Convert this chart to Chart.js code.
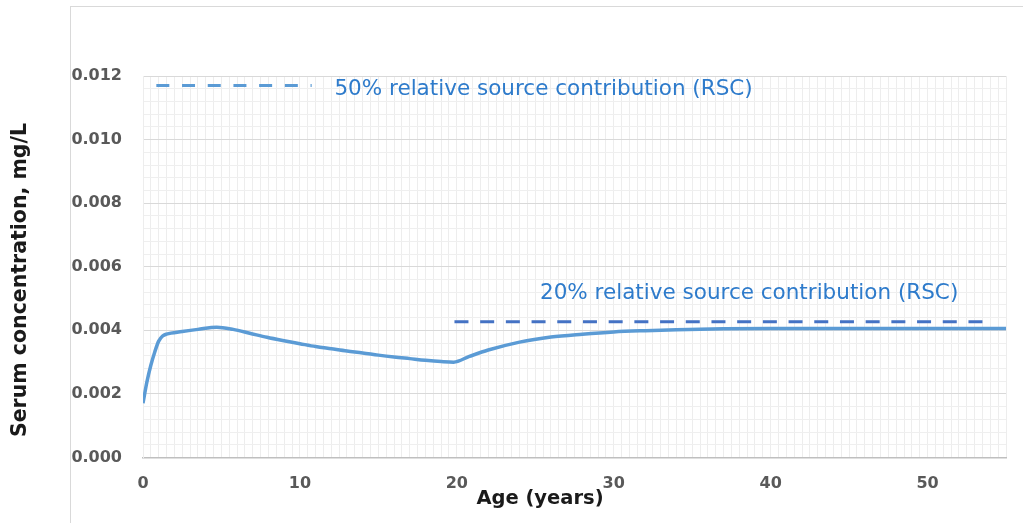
<!DOCTYPE html>
<html>
<head>
<meta charset="utf-8">
<script src="https://cdn.jsdelivr.net/npm/chart.js@4.4.1/dist/chart.umd.min.js"></script>
<style>
body { margin: 0; background: #fff; }
#wrap { position: relative; width: 1023px; height: 523px; overflow: hidden; }
#frame { position: absolute; left: 70px; top: 6px; width: 1000px; height: 600px;
         border-left: 1px solid #d9d9d9; border-top: 1px solid #d9d9d9; pointer-events: none; }
</style>
</head>
<body>
<div id="wrap">
  <canvas id="mycanvas" width="1023" height="523"></canvas>
  <div id="frame"></div>
</div>
<script>
// serum curve
var age = [0, 0.25, 0.5, 0.75, 1, 1.25, 1.5, 2.5, 3.5, 4.7, 5.75, 6.8, 7.9, 8.9, 10, 11, 12, 13, 14, 15, 16, 17, 18, 19, 19.8,
           20.8, 22, 24, 26, 28, 30, 32, 34, 37, 40, 45, 50, 55];
var serum = [0.00171, 0.00238, 0.0029, 0.00332, 0.00366, 0.00382, 0.00388, 0.00396, 0.00403, 0.0041, 0.00403, 0.00391,
             0.00378, 0.00368, 0.00358, 0.00349, 0.00342, 0.00335, 0.00329, 0.00322, 0.00316, 0.00311, 0.00306, 0.00302, 0.003,
             0.00318, 0.00338, 0.00363, 0.00379, 0.00388, 0.00395, 0.00399, 0.00402, 0.00405, 0.00406, 0.00406, 0.00406, 0.00406];

// RSC reference lines
var rsc50Age = [0.85, 10.75];
var rsc50 = [0.0117, 0.0117];
var rsc20Age = [19.85, 54.1];
var rsc20 = [0.00427, 0.00427];

var xTicks = [0, 10, 20, 30, 40, 50];
var yTicks = ["0.000", "0.002", "0.004", "0.006", "0.008", "0.010", "0.012"];

function pts(xs, ys) {
	return xs.map(function (x, i) { return {x: x, y: ys[i]}; });
}
function isMult(v, step) {
	var r = v / step;
	return Math.abs(r - Math.round(r)) < 1e-6;
}

var tickFont = {family: "DejaVu Sans", size: 16, weight: "bold"};

// titles and notes drawn on top
var textPlugin = {
	id: "texts",
	afterDraw: function (chart) {
		var c = chart.ctx;
		var xs = chart.scales.x, ys = chart.scales.y;
		c.save();
		c.fillStyle = "#1a1a1a";
		c.font = "bold 19.5px 'DejaVu Sans'";
		c.textAlign = "center";
		c.textBaseline = "middle";
		c.fillText("Age (years)", 540, 499);

		c.translate(21, 280);
		c.rotate(-Math.PI / 2);
		c.font = "bold 20.5px 'DejaVu Sans'";
		c.fillText("Serum concentration, mg/L", 0, 0);
		c.restore();

		var notes = [
			{text: "50% relative source contribution (RSC)", x: 12.2, y: 0.01158},
			{text: "20% relative source contribution (RSC)", x: 25.3, y: 0.00517}
		];
		c.save();
		c.fillStyle = "#2E7BCB";
		c.font = "21.5px 'DejaVu Sans'";
		c.textAlign = "left";
		c.textBaseline = "middle";
		notes.forEach(function (n) {
			c.fillText(n.text, xs.getPixelForValue(n.x), ys.getPixelForValue(n.y));
		});
		c.restore();
	}
};

var ctx = document.getElementById("mycanvas");
var SerumChart = new Chart(ctx, {
	type: "line",
	data: {
		datasets: [
			{
				label: "serum",
				data: pts(age, serum),
				borderColor: "#5B9BD5",
				borderWidth: 3.5,
				pointRadius: 0,
				fill: false,
				cubicInterpolationMode: "monotone"
			},
			{
				label: "50% RSC",
				data: pts(rsc50Age, rsc50),
				borderColor: "#5B9BD5",
				borderWidth: 3,
				borderDash: [13, 12.7],
				pointRadius: 0,
				fill: false
			},
			{
				label: "20% RSC",
				data: pts(rsc20Age, rsc20),
				borderColor: "#4472C4",
				borderWidth: 3,
				borderDash: [14, 11.7],
				pointRadius: 0,
				fill: false
			}
		]
	},
	options: {
		responsive: false,
		animation: false,
		layout: {padding: {left: 70, top: 76, right: 16, bottom: 0}},
		plugins: {legend: {display: false}, tooltip: {enabled: false}},
		scales: {
			x: {
				type: "linear",
				min: 0,
				max: 55,
				afterFit: function (s) { s.height = 65.5; },
				grid: {color: "#ededed", drawTicks: false},
				border: {color: "#bfbfbf", width: 1.5},
				ticks: {
					stepSize: 0.5,
					autoSkip: false,
					maxTicksLimit: 500,
					maxRotation: 0,
					padding: 17,
					color: "#595959",
					font: tickFont,
					callback: function (v) { return xTicks.indexOf(v) >= 0 ? String(v) : ""; }
				}
			},
			y: {
				min: 0,
				max: 0.012,
				afterFit: function (s) { s.width = 73; },
				grid: {
					drawTicks: false,
					color: function (c) { return isMult(c.tick.value, 0.002) ? "#d9d9d9" : "#efefef"; }
				},
				border: {color: "#ededed"},
				ticks: {
					stepSize: 0.0004,
					autoSkip: false,
					maxTicksLimit: 500,
					padding: 21,
					color: "#595959",
					font: tickFont,
					callback: function (v) {
						if (!isMult(v, 0.002)) return "";
						return yTicks[Math.round(v / 0.002)];
					}
				}
			}
		}
	},
	plugins: [textPlugin]
});
</script>
</body>
</html>
